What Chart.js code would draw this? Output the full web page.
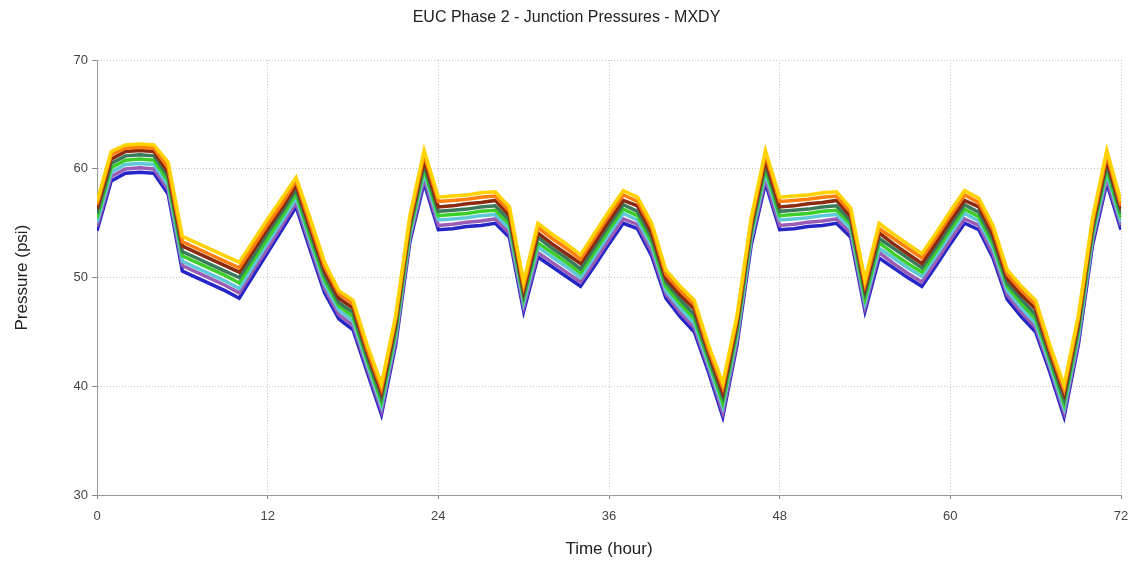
<!DOCTYPE html>
<html>
<head>
<meta charset="utf-8">
<script src="https://cdn.jsdelivr.net/npm/chart.js@4/dist/chart.umd.min.js"></script>
<style>
  body { margin: 0; background: #fff; }
  #wrap { width: 1133px; height: 564px; }
</style>
</head>
<body>
<div id="wrap"><canvas id="grafico" width="1133" height="564"></canvas></div>
<script>
// horas 0..72
const horas = [];
for (let h = 0; h <= 72; h++) horas.push(h);

const ticksX = [0, 12, 24, 36, 48, 60, 72];
const ticksY = [30, 40, 50, 60, 70];

// presiones por nudo (psi), de la más alta a la más baja
const nudo1 = [57.0, 61.6, 62.2, 62.3, 62.2, 60.6, 53.8, 53.2, 52.6, 52.0,
  51.4, 53.4, 55.4, 57.3, 59.2, 55.4, 51.4, 48.8, 47.9, 43.8,
  40.2, 46.5, 55.7, 61.7, 57.4, 57.5, 57.6, 57.8, 57.9, 56.5,
  49.6, 55.0, 54.0, 53.1, 52.1, 54.1, 56.1, 58.0, 57.4, 55.0,
  50.7, 49.2, 47.9, 43.8, 40.3, 46.5, 55.5, 61.7, 57.4, 57.5,
  57.6, 57.8, 57.9, 56.4, 49.8, 55.0, 54.0, 53.1, 52.2, 54.1,
  56.1, 58.0, 57.3, 54.8, 50.7, 49.2, 47.9, 43.8, 40.1, 46.5,
  55.5, 61.7, 57.0];
const nudo2 = [56.7, 61.3, 61.9, 62.0, 61.9, 60.1, 53.3, 52.7, 52.1, 51.5,
  50.9, 52.9, 54.9, 56.8, 58.9, 54.9, 51.0, 48.5, 47.6, 43.4,
  39.8, 46.2, 55.3, 61.3, 57.0, 57.1, 57.2, 57.4, 57.5, 56.1,
  49.2, 54.6, 53.6, 52.7, 51.7, 53.7, 55.7, 57.6, 57.0, 54.6,
  50.3, 48.8, 47.5, 43.4, 39.9, 46.2, 55.1, 61.3, 57.0, 57.1,
  57.2, 57.4, 57.5, 56.0, 49.4, 54.5, 53.6, 52.7, 51.8, 53.7,
  55.7, 57.6, 56.9, 54.4, 50.3, 48.8, 47.5, 43.4, 39.7, 46.2,
  55.1, 61.3, 56.6];
const nudo3 = [56.3, 60.9, 61.6, 61.7, 61.6, 59.7, 52.9, 52.3, 51.7, 51.1,
  50.5, 52.5, 54.5, 56.4, 58.5, 54.5, 50.6, 48.1, 47.2, 43.1,
  39.4, 45.8, 55.0, 60.8, 56.5, 56.6, 56.8, 56.9, 57.1, 55.7,
  48.8, 54.1, 53.1, 52.2, 51.3, 53.2, 55.2, 57.1, 56.6, 54.1,
  49.9, 48.4, 47.1, 43.1, 39.4, 45.8, 54.8, 60.8, 56.5, 56.6,
  56.8, 56.9, 57.1, 55.6, 49.0, 54.1, 53.1, 52.2, 51.3, 53.2,
  55.2, 57.1, 56.5, 53.9, 49.9, 48.4, 47.1, 43.1, 39.3, 45.8,
  54.8, 60.8, 56.3];
const nudo4 = [55.9, 60.5, 61.2, 61.3, 61.2, 59.3, 52.4, 51.8, 51.2, 50.6,
  50.0, 52.0, 54.1, 56.0, 58.1, 54.1, 50.2, 47.7, 46.8, 42.7,
  39.0, 45.4, 54.7, 60.4, 56.1, 56.2, 56.3, 56.5, 56.6, 55.3,
  48.4, 53.7, 52.7, 51.8, 50.8, 52.8, 54.8, 56.7, 56.1, 53.7,
  49.6, 48.0, 46.6, 42.7, 39.0, 45.4, 54.4, 60.4, 56.1, 56.2,
  56.3, 56.5, 56.6, 55.2, 48.6, 53.6, 52.7, 51.8, 50.9, 52.8,
  54.8, 56.7, 56.0, 53.5, 49.5, 48.0, 46.6, 42.7, 38.8, 45.4,
  54.4, 60.4, 55.9];
const nudo5 = [55.5, 60.1, 60.8, 60.9, 60.8, 58.9, 52.0, 51.4, 50.8, 50.2,
  49.5, 51.6, 53.6, 55.6, 57.7, 53.7, 49.8, 47.4, 46.4, 42.4,
  38.6, 45.0, 54.3, 60.0, 55.7, 55.8, 55.9, 56.1, 56.2, 54.9,
  48.1, 53.2, 52.3, 51.4, 50.4, 52.4, 54.4, 56.3, 55.7, 53.3,
  49.2, 47.6, 46.2, 42.4, 38.5, 45.0, 54.1, 60.0, 55.7, 55.8,
  55.9, 56.1, 56.2, 54.9, 48.1, 53.2, 52.2, 51.3, 50.5, 52.4,
  54.4, 56.3, 55.6, 53.1, 49.2, 47.6, 46.2, 42.4, 38.4, 45.0,
  54.1, 60.0, 55.5];
const nudo6 = [55.1, 59.7, 60.4, 60.5, 60.4, 58.5, 51.5, 50.9, 50.3, 49.7,
  49.0, 51.1, 53.2, 55.2, 57.3, 53.3, 49.4, 47.0, 46.0, 42.0,
  38.2, 44.6, 54.0, 59.6, 55.3, 55.4, 55.5, 55.7, 55.8, 54.5,
  47.7, 52.8, 51.9, 51.0, 50.0, 52.0, 54.0, 55.9, 55.3, 52.9,
  48.8, 47.2, 45.8, 42.0, 38.1, 44.6, 53.7, 59.6, 55.3, 55.4,
  55.5, 55.7, 55.8, 54.5, 47.7, 52.7, 51.8, 50.9, 50.1, 52.0,
  54.0, 55.9, 55.2, 52.7, 48.8, 47.2, 45.8, 42.0, 38.0, 44.6,
  53.7, 59.6, 55.1];
const nudo7 = [54.7, 59.3, 60.0, 60.1, 60.0, 58.1, 51.1, 50.5, 49.9, 49.3,
  48.6, 50.7, 52.7, 54.8, 56.9, 52.9, 49.0, 46.6, 45.6, 41.7,
  37.8, 44.2, 53.6, 59.1, 54.8, 54.9, 55.1, 55.2, 55.4, 54.1,
  47.3, 52.3, 51.4, 50.5, 49.6, 51.5, 53.5, 55.4, 54.9, 52.4,
  48.5, 46.8, 45.4, 41.7, 37.6, 44.2, 53.4, 59.1, 54.8, 54.9,
  55.1, 55.2, 55.4, 54.1, 47.3, 52.3, 51.3, 50.4, 49.6, 51.5,
  53.5, 55.4, 54.8, 52.2, 48.4, 46.8, 45.4, 41.7, 37.6, 44.2,
  53.4, 59.1, 54.8];
const nudo8 = [54.3, 58.9, 59.6, 59.7, 59.6, 57.7, 50.6, 50.0, 49.4, 48.8,
  48.1, 50.2, 52.3, 54.4, 56.5, 52.5, 48.6, 46.2, 45.2, 41.3,
  37.4, 43.8, 53.3, 58.7, 54.4, 54.5, 54.7, 54.8, 55.0, 53.7,
  46.9, 51.9, 51.0, 50.1, 49.2, 51.1, 53.1, 55.0, 54.5, 52.0,
  48.1, 46.4, 45.0, 41.3, 37.2, 43.8, 53.0, 58.7, 54.4, 54.5,
  54.7, 54.8, 55.0, 53.7, 46.9, 51.8, 50.9, 50.0, 49.2, 51.1,
  53.1, 55.0, 54.4, 51.8, 48.0, 46.4, 45.0, 41.3, 37.2, 43.8,
  53.0, 58.7, 54.4];

const series = [nudo1, nudo2, nudo3, nudo4, nudo5, nudo6, nudo7, nudo8];
const colores = ["#ffd200", "#ff7f0e", "#8b2a10", "#3a7a5a", "#3ccf2a", "#5fc8d8", "#9a5cb4", "#2626c8"];

const datasets = series.map((s, i) => ({
  label: "Nudo " + (i + 1),
  data: s.map((v, j) => ({ x: horas[j], y: v })),
  borderColor: colores[i],
  borderWidth: 3.5,
  pointRadius: 0,
  tension: 0,
  fill: false
}));

const fuente = "'Liberation Sans', Arial, sans-serif";

new Chart(document.getElementById("grafico"), {
  type: "line",
  data: { datasets: datasets },
  options: {
    responsive: false,
    animation: false,
    layout: { padding: 0 },
    plugins: {
      legend: { display: false },
      tooltip: { enabled: false },
      title: {
        display: true,
        text: "EUC Phase 2 - Junction Pressures - MXDY",
        color: "#222",
        font: { family: fuente, size: 16, weight: "normal" },
        padding: { top: 8, bottom: 33 }
      }
    },
    scales: {
      x: {
        type: "linear",
        min: 0,
        max: 72,
        afterBuildTicks: (axis) => { axis.ticks = ticksX.map(v => ({ value: v })); },
        afterFit: (axis) => { axis.height = 69; axis.paddingRight = 12; },
        ticks: { color: "#444", font: { family: fuente, size: 13 }, padding: 10 },
        grid: { color: "#c4c4c4", lineWidth: 1, tickLength: 4, tickColor: "#888" },
        border: { color: "#999", width: 1, dash: [1, 2] },
        title: {
          display: true,
          text: "Time (hour)",
          color: "#222",
          font: { family: fuente, size: 17 },
          padding: { top: 10 }
        }
      },
      y: {
        min: 30,
        max: 70,
        afterBuildTicks: (axis) => { axis.ticks = ticksY.map(v => ({ value: v })); },
        afterFit: (axis) => { axis.width = 97; },
        ticks: { color: "#444", font: { family: fuente, size: 13 }, padding: 4 },
        grid: { color: "#c4c4c4", lineWidth: 1, tickLength: 5, tickColor: "#888" },
        border: { color: "#999", width: 1, dash: [1, 2] },
        title: {
          display: true,
          text: "Pressure (psi)",
          color: "#222",
          font: { family: fuente, size: 17 },
          padding: { top: 12, bottom: 12 }
        }
      }
    }
  }
});
</script>
</body>
</html>
